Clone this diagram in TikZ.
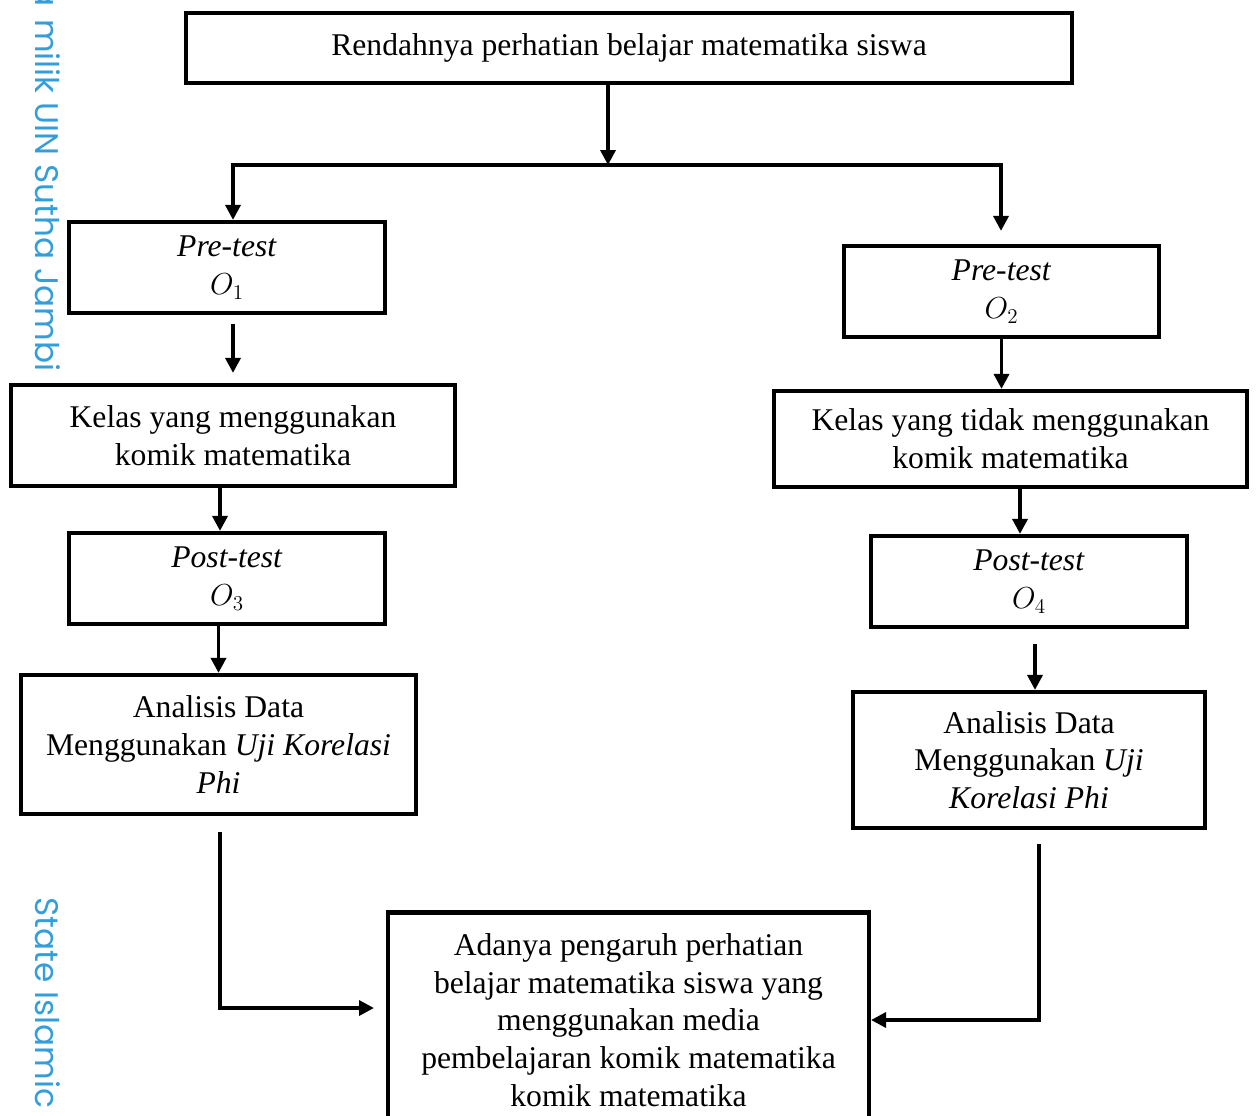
\documentclass[tikz,border=0pt]{standalone}
\usepackage{fontspec}
\setmainfont{Liberation Serif}
\newfontfamily\tandaair{Poppins}
\usetikzlibrary{arrows.meta}
\definecolor{birumuda}{RGB}{52,158,218}

\begin{document}
\begin{tikzpicture}[x=0.02cm, y=-0.02cm,
        kotak/.style={draw, line width=2.4pt, align=center, inner sep=0pt,
          font=\fontsize{18}{21.5}\selectfont},
        panah/.style={line width=2pt, -{Triangle[length=8.5pt, width=8.5pt]}},
        tanda/.style={rotate=-90, text=birumuda, font=\tandaair\fontsize{18.6}{18}\selectfont}]
        \useasboundingbox (0,0) rectangle (1256,1115);
        \clip (0,0) rectangle (1256,1115);

        \node[tanda, anchor=base west] (tanda1) at (35,13) {milik UIN Sutha Jambi};
        \node[tanda, anchor=base east] (tanda0) at (tanda1.base west) {a\ };
        \node[tanda, anchor=base west] (tanda2) at (35,891) {State Islamic U};

        \node[kotak, minimum width=17.72cm, minimum height=1.4cm] (masalah) at (629,48) {Rendahnya perhatian belajar matematika siswa};

        \node[kotak, minimum width=6.32cm, minimum height=1.82cm] (pre1) at (227,267.5) {\textit{Pre-test}\\$O_1$};
        \node[kotak, minimum width=8.88cm, minimum height=2.02cm] (kelas1) at (233,435.5) {Kelas yang menggunakan\\komik matematika};
        \node[kotak, minimum width=6.32cm, minimum height=1.82cm] (post1) at (227,578.5) {\textit{Post-test}\\$O_3$};
        \node[kotak, minimum width=7.9cm, minimum height=2.78cm] (analisis1) at (218.5,744.5) {Analisis Data\\Menggunakan \textit{Uji Korelasi}\\\textit{Phi}};

        \node[kotak, minimum width=6.3cm, minimum height=1.82cm] (pre2) at (1001.5,291.5) {\textit{Pre-test}\\$O_2$};
        \node[kotak, minimum width=9.46cm, minimum height=1.92cm] (kelas2) at (1010.5,439) {Kelas yang tidak menggunakan\\komik matematika};
        \node[kotak, minimum width=6.32cm, minimum height=1.82cm] (post2) at (1029,581.5) {\textit{Post-test}\\$O_4$};
        \node[kotak, minimum width=7.04cm, minimum height=2.72cm] (analisis2) at (1029,760) {Analisis Data\\Menggunakan \textit{Uji}\\\textit{Korelasi Phi}};

        \node[kotak, minimum width=9.62cm, minimum height=4.3cm] (hasil) at (628.5,1020) {Adanya pengaruh perhatian\\belajar matematika siswa yang\\menggunakan media\\pembelajaran komik matematika\\komik matematika};

        \coordinate (cabang) at (608,165);
        \coordinate (kiri) at (233,165);
        \coordinate (kanan) at (1001,165);
        \coordinate (siku1) at (220,1008);
        \coordinate (siku2) at (1039,1020);

        \draw[panah] (masalah.south -| cabang) -- (cabang);
        \draw[panah] (cabang) -- (kiri) -- (kiri |- pre1.north);
        \draw[panah, shorten >=0.26cm] (cabang) -- (kanan) -- (kanan |- pre2.north);

        \draw[panah, shorten <=0.18cm, shorten >=0.2cm] (kelas1.north |- pre1.south) -- (kelas1.north);
        \draw[panah] ([xshift=-0.26cm]kelas1.south) -- ([xshift=-0.26cm]kelas1.south |- post1.north);
        \draw[panah] (analisis1.north |- post1.south) -- (analisis1.north);
        \draw[panah, shorten <=0.32cm, shorten >=0.24cm] (analisis1.south -| siku1) -- (siku1) -- (siku1 -| hasil.west);

        \draw[panah] (pre2.south) -- (pre2.south |- kelas2.north);
        \draw[panah] ([xshift=0.19cm]kelas2.south) -- ([xshift=0.19cm]kelas2.south |- post2.north);
        \draw[panah, shorten <=0.3cm] ([xshift=0.12cm]post2.south) -- ([xshift=0.12cm]post2.south |- analisis2.north);
        \draw[panah, shorten <=0.28cm] (analisis2.south -| siku2) -- (siku2) -- (siku2 -| hasil.east);
\end{tikzpicture}
\end{document}
